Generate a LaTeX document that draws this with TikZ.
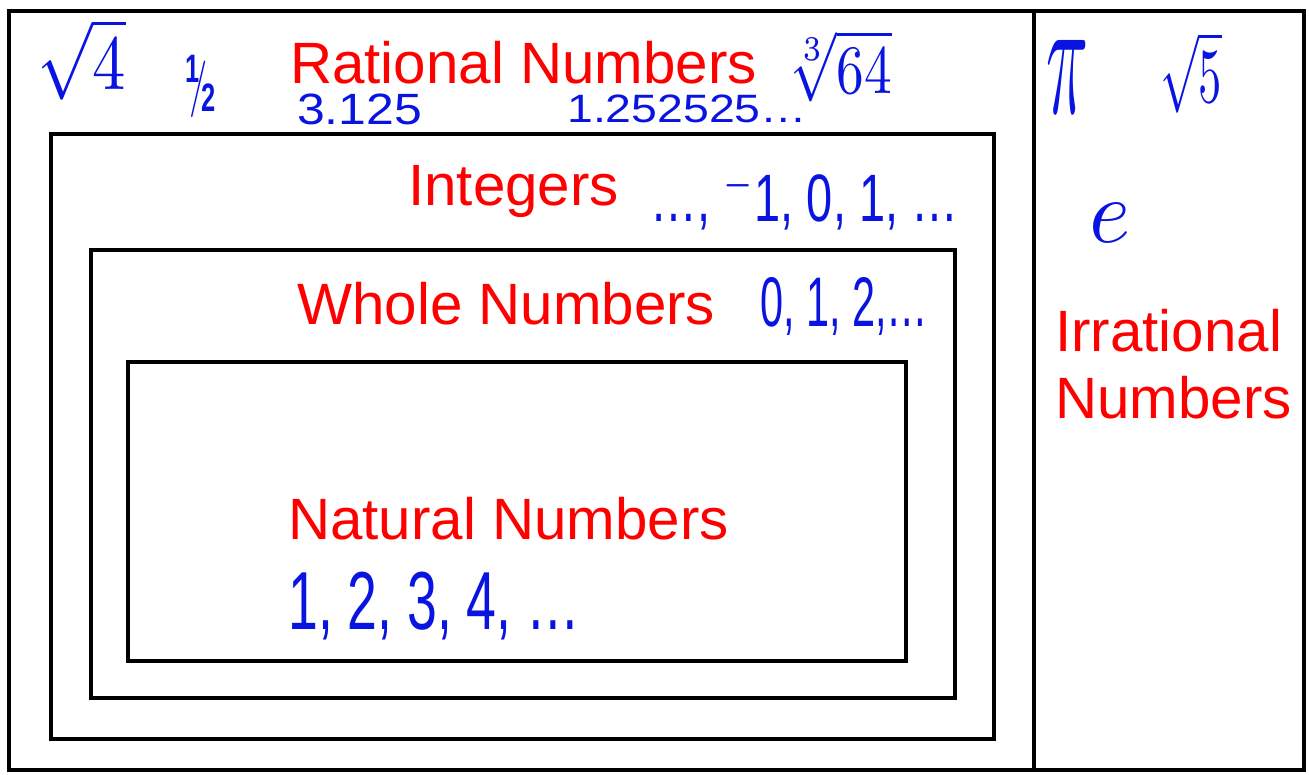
\documentclass[tikz,border=0pt]{standalone}
\usepackage{fontspec}
\usepackage{graphicx}
\setmainfont{Liberation Sans}
\definecolor{labelred}{RGB}{255,0,0}
\definecolor{handblue}{RGB}{10,20,225}
\newcommand\handbox[3]{\resizebox*{#1pt}{#2pt}{#3}}
\tikzset{
  frame/.style={draw=black, line width=4.8pt},
  setlabel/.style={text=labelred, anchor=base west, inner sep=0pt, font=\fontsize{58.3}{60}\selectfont},
  hand/.style={text=handblue, anchor=north west, inner sep=0pt}
}
\begin{document}
\begin{tikzpicture}[x=1pt,y=-1pt]
\useasboundingbox (0,0) rectangle (1309,774);
% frames
\draw[frame] (9,11) rectangle (1304,770);
\draw[frame] (1034,11) -- (1034,770);
\draw[frame] (51,134) rectangle (994,739);
\draw[frame] (91,250) rectangle (955,698);
\draw[frame] (128,362) rectangle (906,661);
% red labels
\node[setlabel] (rat) at (290,83) {Rational Numbers};
\node[setlabel] (int) at (408,205) {Integers};
\node[setlabel] (who) at (297,324) {Whole Numbers};
\node[setlabel] (nat) at (288,539) {Natural Numbers};
\node[setlabel] (irr1) at (1055,351) {Irrational};
\node[setlabel] (irr2) at (1055,418) {Numbers};
% handwritten examples
\node[hand] (sq4) at (37,19) {\handbox{89}{81}{$\sqrt{4}$}};
\node[hand] (half) at (185,55) {\handbox{32}{62}{\textbf{${}^{\mathbf{1}}\!\!/\!{}_{\mathbf{2}}$}}};
\node[hand] (dec) at (297,94) {\handbox{125}{31}{3.125}};
\node[hand] (rep) at (567,95) {\handbox{240}{28}{1.252525\dots}};
\node[hand] (cb) at (787,30) {\handbox{105}{72}{$\sqrt[3]{64}$}};
\node[hand] (pi) at (1046,40) {\handbox{42}{73}{$\pi$}};
\node[hand] (sq5) at (1160,32) {\handbox{62}{81}{$\sqrt{5}$}};
\node[hand] (e) at (1089,203) {\handbox{41}{39}{$e$}};
\node[hand] (ints) at (650,168) {\handbox{308}{62}{\dots, $^{-}$1, 0, 1, \dots}};
\node[hand] (whs) at (760,277) {\handbox{168}{58}{0, 1, 2,\dots}};
\node[hand] (nats) at (288,572) {\handbox{292}{68}{1, 2, 3, 4, \dots}};
\end{tikzpicture}
\end{document}
